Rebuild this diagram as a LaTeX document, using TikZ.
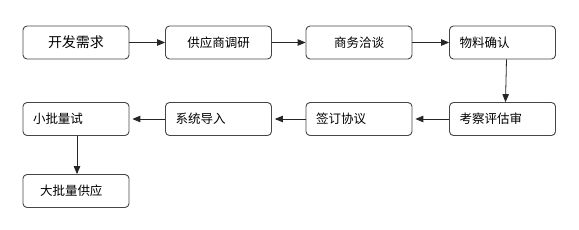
\documentclass[tikz,border=0pt]{standalone}
\usepackage{fontspec}
\setmainfont{Noto Sans CJK SC}
\usetikzlibrary{arrows,positioning}
\definecolor{boxline}{RGB}{70,70,70}

\begin{document}
\begin{tikzpicture}[x=1pt, y=-1pt, every node/.style={font=\fontsize{12.5}{14}\selectfont},
    box/.style={draw=boxline, line width=0.9pt, rounded corners=4pt, minimum width=106pt, minimum height=33pt, inner sep=0pt},
    lbox/.style={box, text width=86pt, inner xsep=10pt, align=left},
    flow/.style={-triangle 45, line width=0.8pt, draw=black!85}]
    \useasboundingbox (0,0) rectangle (579,230);

    % Row 1
    \node[box] (need) at (76, 42.5) {\fontsize{14}{16}\selectfont 开发需求};
    \node[box] (survey) at (218.5, 42.5) {供应商调研};
    \node[box] (talk) at (359, 42.5) {商务洽谈};
    \node[lbox] (confirm) at (502.5, 42.5) {物料确认};

    % Row 2
    \node[lbox] (audit) at (502.5, 119) {考察评估审};
    \node[lbox] (sign) at (359, 119) {签订协议};
    \node[lbox] (import) at (218.5, 119) {系统导入};
    \node[lbox] (trial) at (76, 119) {小批量试};

    % Row 3
    \node[box, text width=72pt, inner xsep=17pt, align=left] (mass) at (76, 191) {大批量供应};

    % Edges
    \draw[flow] (need) -- (survey);
    \draw[flow] (survey) -- (talk);
    \draw[flow] (talk) -- (confirm);
    \draw[flow] ([xshift=4pt]confirm.south) -- ([xshift=3pt]audit.north);
    \draw[flow, shorten >=3pt] (audit) -- (sign);
    \draw[flow, shorten >=3pt] (sign) -- (import);
    \draw[flow, shorten >=3pt] (import) -- (trial);
    \draw[flow] ([xshift=1pt]trial.south) -- ([xshift=1pt]trial.south |- mass.north);
\end{tikzpicture}
\end{document}
